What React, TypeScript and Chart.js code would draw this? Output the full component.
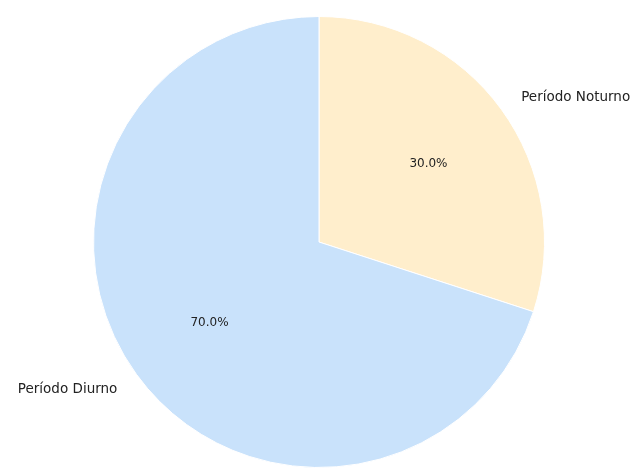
import React, { useEffect, useRef } from "react";
import { Chart, registerables } from "chart.js";

Chart.register(...registerables);

const categories: string[] = ["Período Noturno", "Período Diurno"];
const values: number[] = [30, 70];
const colors: string[] = ["#FFEECC", "#C9E2FB"];

const labelPlugin = {
  id: "pieLabels",
  afterDatasetsDraw(chart: any) {
    const ctx = chart.ctx;
    const meta = chart.getDatasetMeta(0);
    const total = values.reduce((a, b) => a + b, 0);
    ctx.save();
    meta.data.forEach((arc: any, i: number) => {
      const { x, y, startAngle, endAngle, outerRadius } = arc.getProps(
        ["x", "y", "startAngle", "endAngle", "outerRadius"],
        true
      );
      const mid = (startAngle + endAngle) / 2;
      const c = Math.cos(mid);
      const s = Math.sin(mid);
      ctx.fillStyle = "#222";
      ctx.font = "12px 'DejaVu Sans'";
      ctx.textAlign = "center";
      ctx.textBaseline = "middle";
      const pct = ((values[i] / total) * 100).toFixed(1) + "%";
      ctx.fillText(pct, x + c * outerRadius * 0.6, y + s * outerRadius * 0.6 + 1);
      ctx.font = "13.5px 'DejaVu Sans'";
      ctx.textAlign = c >= 0 ? "left" : "right";
      ctx.fillText(categories[i], x + c * outerRadius * 1.1 + (c >= 0 ? 1.5 : -1), y + s * outerRadius * 1.1 + 1.5);
    });
    ctx.restore();
  },
};

export default function App() {
  const ref = useRef<HTMLCanvasElement>(null);
  useEffect(() => {
    const chart = new Chart(ref.current!, {
      type: "pie",
      data: {
        labels: categories,
        datasets: [
          {
            data: values,
            backgroundColor: colors,
            borderColor: "#ffffff",
            borderWidth: 1,
          },
        ],
      },
      options: {
        animation: false,
        responsive: false,
        layout: { padding: { top: 16, bottom: 0, left: 0, right: 0 } },
        plugins: {
          legend: { display: false },
          tooltip: { enabled: false },
        },
      },
      plugins: [labelPlugin],
    });
    return () => chart.destroy();
  }, []);
  return (
    <div style={{ position: "absolute", left: 0, top: 0, width: 638, height: 468, background: "#fff" }}>
      <canvas ref={ref} width={638} height={468} style={{ width: 638, height: 468 }} />
    </div>
  );
}
